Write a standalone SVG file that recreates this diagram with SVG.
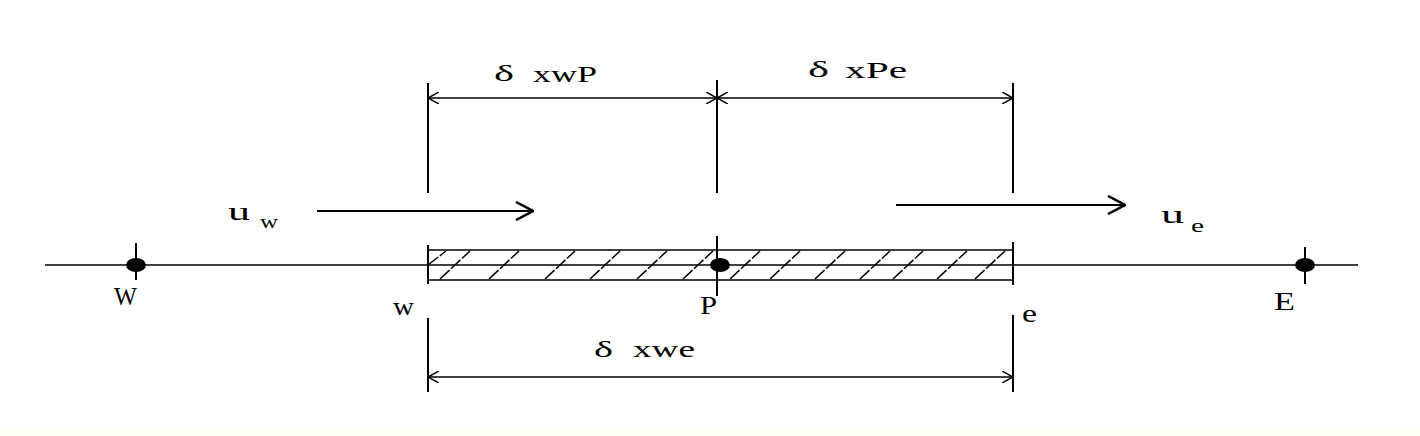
<svg xmlns="http://www.w3.org/2000/svg" width="1420" height="436" viewBox="0 0 1420 436">
<style>
.l{stroke:#000;stroke-width:2;fill:none}
.t{stroke:#000;stroke-width:1.6;fill:none}
.h{stroke:#000;stroke-width:1.5;fill:none;stroke-dasharray:13 2}
.tx{font-family:"Liberation Serif",serif;font-size:26px;fill:#000}
.dl{font-family:"Liberation Serif",serif;font-size:24px;fill:#000}
.sb{font-family:"Liberation Serif",serif;font-size:18px;fill:#000}
</style>
<defs>
<marker id="ah" viewBox="0 0 12 12" refX="11" refY="6" markerWidth="12" markerHeight="12" markerUnits="userSpaceOnUse" orient="auto-start-reverse">
<path d="M0,0 L11,6 L0,12" fill="none" stroke="#000" stroke-width="1.5"/>
</marker>
<marker id="af" viewBox="0 0 20 20" refX="19" refY="10" markerWidth="20" markerHeight="20" markerUnits="userSpaceOnUse" orient="auto">
<path d="M2,1 L19,10 L2,19" fill="none" stroke="#000" stroke-width="2.5"/>
</marker>
</defs>
<rect width="1420" height="436" fill="#fff"/>
<rect y="428" width="1420" height="8" fill="#fffff6"/>
<g id="axis">
<line class="t" x1="45" y1="265" x2="1358" y2="265"/>
</g>
<g id="cell">
<line class="t" x1="428" y1="250" x2="1013" y2="250"/>
<line class="t" x1="428" y1="280" x2="1013" y2="280"/>
<line class="l" x1="428" y1="245" x2="428" y2="284"/>
<line class="l" x1="1013" y1="242" x2="1013" y2="285"/>
<g class="h">
<line x1="428" y1="265" x2="446" y2="251"/>
<line x1="440" y1="279" x2="470" y2="251"/>
<line x1="489" y1="279" x2="519" y2="251"/>
<line x1="545" y1="279" x2="575" y2="251"/>
<line x1="590" y1="279" x2="620" y2="251"/>
<line x1="637" y1="279" x2="667" y2="251"/>
<line x1="683" y1="279" x2="713" y2="251"/>
<line x1="730" y1="279" x2="760" y2="251"/>
<line x1="770" y1="279" x2="800" y2="251"/>
<line x1="815" y1="279" x2="845" y2="251"/>
<line x1="860" y1="279" x2="890" y2="251"/>
<line x1="893" y1="279" x2="923" y2="251"/>
<line x1="937" y1="279" x2="967" y2="251"/>
<line x1="975" y1="279" x2="1005" y2="251"/>
</g>
</g>
<g id="connectors">
<line class="l" x1="428" y1="83" x2="428" y2="193"/>
<line class="l" x1="717" y1="80" x2="717" y2="193"/>
<line class="l" x1="1013" y1="83" x2="1013" y2="193"/>
<line class="l" x1="428" y1="318" x2="428" y2="392"/>
<line class="l" x1="1013" y1="315" x2="1013" y2="392"/>
<line class="t" x1="428" y1="98" x2="717" y2="98" marker-start="url(#ah)" marker-end="url(#ah)"/>
<line class="t" x1="717" y1="98" x2="1013" y2="98" marker-start="url(#ah)" marker-end="url(#ah)"/>
<line class="t" x1="428" y1="377" x2="1013" y2="377" marker-start="url(#ah)" marker-end="url(#ah)"/>
<line class="l" x1="317" y1="211" x2="533" y2="211" stroke-width="2.5" marker-end="url(#af)"/>
<line class="l" x1="896" y1="205" x2="1125" y2="205" stroke-width="2.5" marker-end="url(#af)"/>
</g>
<g id="W">
<line class="l" x1="136" y1="243" x2="136" y2="280"/>
<ellipse cx="136" cy="265" rx="10" ry="7"/>
<text class="tx" x="114" y="305" textLength="23" lengthAdjust="spacingAndGlyphs">W</text>
</g>
<g id="P">
<line class="l" x1="717" y1="236" x2="717" y2="296"/>
<ellipse cx="720" cy="265" rx="10" ry="7"/>
<text class="tx" x="700" y="314" textLength="17" lengthAdjust="spacingAndGlyphs">P</text>
</g>
<g id="E">
<line class="l" x1="1305" y1="247" x2="1305" y2="284"/>
<ellipse cx="1305" cy="265" rx="10" ry="7"/>
<text class="tx" x="1274" y="310" textLength="21" lengthAdjust="spacingAndGlyphs">E</text>
</g>
<g id="face-w">
<text class="tx" x="393" y="315" textLength="21" lengthAdjust="spacingAndGlyphs">w</text>
</g>
<g id="face-e">
<text class="tx" x="1022" y="322" textLength="15" lengthAdjust="spacingAndGlyphs">e</text>
</g>
<g id="uw">
<text class="tx" x="228" y="220" textLength="22" lengthAdjust="spacingAndGlyphs">u</text>
<text class="sb" x="260" y="228" textLength="18" lengthAdjust="spacingAndGlyphs">w</text>
</g>
<g id="ue">
<text class="tx" x="1161" y="223" textLength="23" lengthAdjust="spacingAndGlyphs">u</text>
<text class="sb" x="1191" y="232" textLength="13" lengthAdjust="spacingAndGlyphs">e</text>
</g>
<g id="dims">
<text class="dl"><tspan x="494" y="81" textLength="20" lengthAdjust="spacingAndGlyphs">δ</tspan><tspan x="533" y="82" textLength="64" lengthAdjust="spacingAndGlyphs">xwP</tspan></text>
<text class="dl"><tspan x="808" y="77" textLength="21" lengthAdjust="spacingAndGlyphs">δ</tspan><tspan x="845" y="78" textLength="62" lengthAdjust="spacingAndGlyphs">xPe</tspan></text>
<text class="dl"><tspan x="594" y="357" textLength="19" lengthAdjust="spacingAndGlyphs">δ</tspan><tspan x="633" y="357" textLength="62" lengthAdjust="spacingAndGlyphs">xwe</tspan></text>
</g>
</svg>
